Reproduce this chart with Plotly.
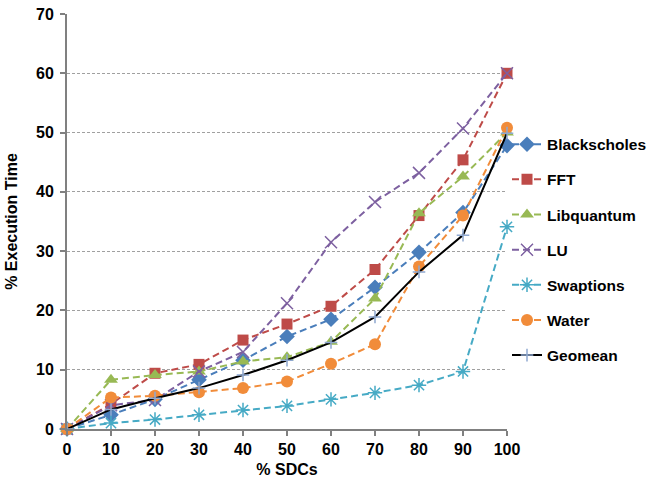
import plotly.graph_objects as go

sdcs = [0, 10, 20, 30, 40, 50, 60, 70, 80, 90, 100]
blackscholes = [0, 2.4, 5.0, 8.3, 11.6, 15.6, 18.5, 23.9, 29.8, 36.5, 47.8]
fft = [0, 4.2, 9.4, 10.9, 15.0, 17.7, 20.7, 26.9, 36.0, 45.4, 60.0]
libquantum = [0, 8.3, 9.1, 9.7, 11.4, 12.1, 14.7, 22.0, 36.4, 42.6, 50.0]
lu = [0, 4.0, 4.9, 9.7, 13.0, 21.2, 31.5, 38.3, 43.2, 50.7, 60.0]
swaptions = [0, 1.0, 1.6, 2.4, 3.2, 3.9, 5.0, 6.1, 7.4, 9.7, 34.1]
water = [0, 5.3, 5.6, 6.2, 6.9, 8.0, 11.0, 14.3, 27.4, 36.0, 50.8]
geomean = [0, 3.3, 5.2, 6.9, 9.1, 11.6, 14.6, 18.9, 26.5, 32.7, 49.9]

y_ticks = [0, 10, 20, 30, 40, 50, 60, 70]

series = [
    ("Blackscholes", blackscholes, "#4A7EBB", "diamond", 12),
    ("FFT", fft, "#BE4B48", "square", 11),
    ("Libquantum", libquantum, "#98B954", "triangle-up", 12),
    ("LU", lu, "#7D60A0", "x-thin-open", 12),
    ("Swaptions", swaptions, "#46AAC5", "asterisk-open", 12),
    ("Water", water, "#F18C3A", "circle", 12),
]

fig = go.Figure()
for name, vals, color, sym, size in series:
    mline = dict(width=1.5, color=color) if sym.endswith("open") else dict(width=0)
    fig.add_trace(go.Scatter(
        x=sdcs, y=vals, name=name, mode="lines+markers",
        line=dict(color=color, width=2, dash="7px,4px"),
        marker=dict(symbol=sym, size=size, color=color, line=mline),
        cliponaxis=False, legendgroup=name,
    ))
fig.add_trace(go.Scatter(
    x=sdcs, y=geomean, name="Geomean", mode="lines+markers",
    line=dict(color="black", width=2),
    marker=dict(symbol="cross-thin-open", size=9, color="#8FA8D0", line=dict(width=1.5, color="#8FA8D0")),
    cliponaxis=False, legendgroup="Geomean",
))

font_family = "Liberation Sans, Arial, sans-serif"
fig.update_layout(
    width=653, height=482,
    margin=dict(l=67, r=146, t=14, b=53, autoexpand=False),
    paper_bgcolor="white", plot_bgcolor="white",
    font=dict(family=font_family, size=16, color="black"),
    showlegend=True,
    legend=dict(
        x=1.0, xanchor="left", y=0.431, yanchor="middle",
        bgcolor="rgba(0,0,0,0)",
        font=dict(family=font_family, size=15.5, color="black", weight="bold"),
        tracegroupgap=12, itemwidth=30,
    ),
    xaxis=dict(
        range=[0, 100], tickvals=sdcs, ticktext=[str(v) for v in sdcs],
        showline=True, linecolor="#808080", linewidth=2,
        ticks="outside", ticklen=5, tickcolor="#808080", tickwidth=2,
        showgrid=False, zeroline=False, automargin=False,
        tickfont=dict(size=16, weight="bold"),
        title=dict(text="% SDCs", font=dict(size=16, weight="bold"), standoff=7),
    ),
    yaxis=dict(
        range=[0, 70], tickvals=y_ticks,
        showline=True, linecolor="#808080", linewidth=2,
        ticks="outside", ticklen=5, tickcolor="#808080", tickwidth=2,
        ticklabelstandoff=3, ticklabeloverflow="allow",
        showgrid=True, gridcolor="#A0A0A0", gridwidth=1, griddash="3px,2px",
        zeroline=False, automargin=False,
        tickfont=dict(size=16, weight="bold"),
        title=dict(text="% Execution Time", font=dict(size=16, weight="bold"), standoff=14),
    ),
)

fig.write_html("out.html", config={"displayModeBar": False},
               post_script="document.body.style.margin='0px';")
